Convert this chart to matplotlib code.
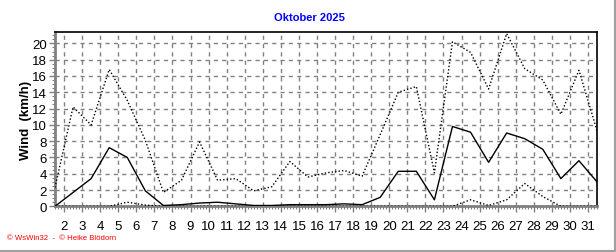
import matplotlib
matplotlib.use("Agg")
import matplotlib.pyplot as plt
from matplotlib.lines import Line2D
from matplotlib.ticker import MultipleLocator

plt.rcParams['font.family'] = ['Liberation Sans', 'DejaVu Sans']

days = list(range(1, 32))
# gust (upper dotted), mean (solid), minimum (lower dotted), km/h
wind_max = [2.3, 12.2, 10.0, 16.8, 13.0, 8.1, 1.7, 3.2, 7.9, 3.2, 3.4, 1.9, 2.4, 5.5, 3.6, 4.1,
            4.4, 3.7, 8.8, 14.0, 14.7, 4.1, 20.2, 18.9, 14.4, 21.2, 16.9, 15.5, 11.3, 16.7, 9.3]
wind_mean = [0.0, 1.7, 3.4, 7.2, 6.0, 1.9, 0.1, 0.2, 0.4, 0.5, 0.3, 0.1, 0.1, 0.2, 0.2, 0.2,
             0.3, 0.2, 1.1, 4.3, 4.3, 0.8, 9.8, 9.1, 5.4, 9.0, 8.3, 7.0, 3.4, 5.6, 3.0]
wind_min = [0.0, 0.0, 0.0, 0.0, 0.5, 0.15, 0.0, 0.0, 0.0, 0.0, 0.0, 0.0, 0.0, 0.0, 0.0, 0.0,
            0.0, 0.0, 0.0, 0.0, 0.0, 0.0, 0.0, 0.8, 0.1, 0.8, 2.8, 1.2, 0.0, 0.0, 0.0]
tick_days = list(range(2, 32))

xs = [d + 0.5 for d in days]  # values plotted at midday

fig = plt.figure(figsize=(6.16, 2.53), dpi=100)
ax = fig.add_axes([55 / 616, 1 - 207.3 / 253, 542 / 616, 174.3 / 253])

ax.plot(xs, wind_max, color='black', lw=1.0, linestyle=(0, (1, 1.5)), zorder=3)
ax.plot(xs, wind_mean, color='black', lw=1.0, zorder=3)
ax.plot(xs, wind_min, color='black', lw=1.0, linestyle=(0, (1, 1.5)), zorder=3)

ax.set_xlim(1.5, 31.5)
ax.set_ylim(0, 21.4)
ax.set_xticks(tick_days)
ax.set_xticklabels([str(d) for d in tick_days])
ax.set_yticks(range(0, 21, 2))
ax.xaxis.set_minor_locator(MultipleLocator(1 / 6))
ax.yaxis.set_minor_locator(MultipleLocator(0.5))

ax.grid(True, which='major', color='#808080', linestyle=(0, (3, 3)), lw=1.0)
ax.set_axisbelow(True)

ax.tick_params(axis='both', which='major', labelsize=9.5, color='#808080', length=4, width=1)
ax.tick_params(axis='both', which='minor', color='#808080', length=2.5, width=0.8)
ax.tick_params(axis='x', pad=6)
ax.tick_params(axis='y', pad=2)

for s in ('left', 'bottom'):
    ax.spines[s].set_color('#808080')
    ax.spines[s].set_linewidth(2)
for s in ('top', 'right'):
    ax.spines[s].set_color('black')
    ax.spines[s].set_linewidth(1.2)

ax.set_ylabel('Wind  (km/h)', fontsize=9.5, fontweight='bold', labelpad=0)

fig.text(309 / 616, 1 - 18 / 253, 'Oktober 2025', color='#0000ff', fontsize=8,
         fontweight='bold', ha='center', va='center')
fig.text(7 / 616, 1 - 238.5 / 253, '© WsWin32  -  © Heike Blödorn', color='#ff0000',
         fontsize=5.6, ha='left', va='center')

# grey frame at right and bottom
fig.add_artist(Line2D([614.5 / 616, 614.5 / 616], [0, 1], transform=fig.transFigure,
                      color='#a0a0a0', lw=1.5))
fig.add_artist(Line2D([0, 1], [1.5 / 253, 1.5 / 253], transform=fig.transFigure,
                      color='#a0a0a0', lw=1.5))

fig.savefig('out.png', dpi=100)
